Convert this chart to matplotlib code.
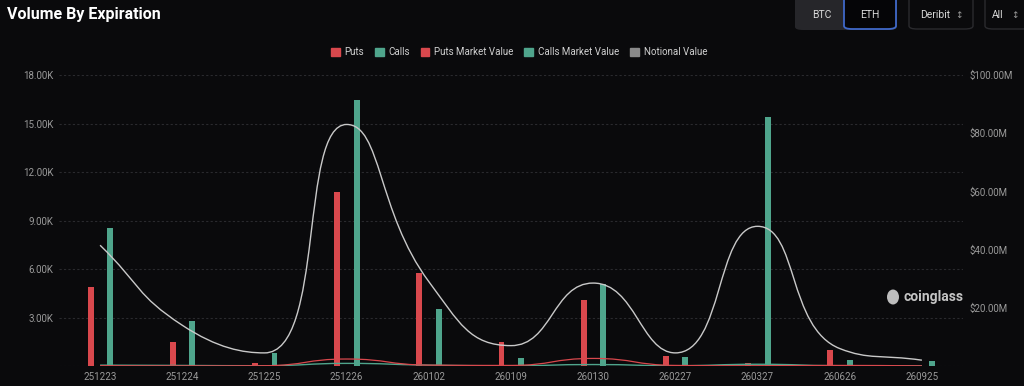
import numpy as np
import matplotlib.pyplot as plt
from matplotlib.path import Path
from matplotlib.patches import PathPatch, Patch, FancyBboxPatch, Ellipse

plt.rcParams['font.family'] = ['Roboto', 'DejaVu Sans']

# data (volume in K, values in $M)
expiries = ['251223', '251224', '251225', '251226', '260102', '260109',
            '260130', '260227', '260327', '260626', '260925']
puts = [4.9, 1.5, 0.2, 10.75, 5.75, 1.5, 4.1, 0.6, 0.2, 1.0, 0.0]
calls = [8.55, 2.8, 0.8, 16.45, 3.5, 0.5, 5.1, 0.55, 15.4, 0.4, 0.3]
puts_mv = [0.1, 0.05, 0.1, 2.4, 0.3, 0.2, 2.6, 0.2, 0.1, 0.2, 0.05]
calls_mv = [0.3, 0.2, 0.1, 0.9, 0.3, 0.1, 0.5, 0.1, 0.6, 0.1, 0.05]
notional = [41.5, 14.0, 4.5, 83.0, 29.0, 7.0, 28.5, 4.5, 48.0, 6.0, 2.0]

left_ticks = [0, 3, 6, 9, 12, 15, 18]
right_ticks = [0, 20, 40, 60, 80, 100]

BG = '#0a0a0c'
RED = '#d9484d'
GREEN = '#4fa58c'
GRAY = '#9a9a9a'
LINE = '#c9c9c9'

W, H = 1024, 386
fig = plt.figure(figsize=(W / 100, H / 100), dpi=100, facecolor=BG)
ax_l, ax_r, ax_b, ax_t = 59, 963, 366, 75
ax = fig.add_axes([ax_l / W, 1 - ax_b / H, (ax_r - ax_l) / W, (ax_b - ax_t) / H])
ax.set_facecolor(BG)
ax2 = ax.twinx()

n = len(expiries)
x = np.arange(n)
ax.set_xlim(-0.5, n - 0.5)
ax.set_ylim(0, 18)
ax2.set_ylim(0, 100)

bw = 0.072
ax.bar(x - 0.116, puts, width=bw, color=RED, zorder=3)
ax.bar(x + 0.122, calls, width=bw, color=GREEN, zorder=3)


# echarts-like smooth bezier (with clamped control points)
def smooth_path(xs, ys, sx, sy, smooth=0.5):
    px = np.asarray(xs, float) * sx
    py = np.asarray(ys, float) * sy
    m = len(px)
    cin, cout = [], []
    for i in range(m):
        x0, y0 = px[i], py[i]
        xp, yp = (px[i - 1], py[i - 1]) if i > 0 else (x0, y0)
        xn, yn = (px[i + 1], py[i + 1]) if i < m - 1 else (x0, y0)
        vx, vy = xn - xp, yn - yp
        lp = np.hypot(x0 - xp, y0 - yp)
        ln = np.hypot(xn - x0, yn - y0)
        if lp + ln == 0:
            cin.append((x0, y0)); cout.append((x0, y0)); continue
        r = ln / (lp + ln)
        ncx, ncy = x0 + vx * smooth * r, y0 + vy * smooth * r
        ncx = np.clip(ncx, min(xn, x0), max(xn, x0))
        ncy = np.clip(ncy, min(yn, y0), max(yn, y0))
        if ln > 0 and lp > 0:
            pcx = x0 - (ncx - x0) * lp / ln
            pcy = y0 - (ncy - y0) * lp / ln
            pcx = np.clip(pcx, min(xp, x0), max(xp, x0))
            pcy = np.clip(pcy, min(yp, y0), max(yp, y0))
            ncx = x0 + (x0 - pcx) * ln / lp
            ncy = y0 + (y0 - pcy) * ln / lp
        else:
            pcx, pcy = x0 - vx * smooth * (1 - r), y0 - vy * smooth * (1 - r)
        cin.append((pcx, pcy))
        cout.append((ncx, ncy))
    verts = [(px[0], py[0])]
    codes = [Path.MOVETO]
    for i in range(m - 1):
        verts += [cout[i], cin[i + 1], (px[i + 1], py[i + 1])]
        codes += [Path.CURVE4] * 3
    verts = np.array(verts) / np.array([sx, sy])
    return Path(verts, codes)


sx = (ax_r - ax_l) / n
sy = (ax_b - ax_t) / 100
for vals, col, lw, z in [(calls_mv, GREEN, 1.0, 4), (puts_mv, RED, 0.9, 4),
                         (notional, LINE, 1.0, 5)]:
    ax2.add_patch(PathPatch(smooth_path(x, vals, sx, sy), fill=False,
                            edgecolor=col, lw=lw, zorder=z))

# grid and ticks
ax.set_yticks(left_ticks)
ax.set_yticklabels([''] + ['%.2fK' % t for t in left_ticks[1:]])
ax2.set_yticks(right_ticks)
ax2.set_yticklabels([''] + ['$%.2fM' % t for t in right_ticks[1:]])
ax.set_xticks(x)
ax.set_xticklabels(expiries)
ax.grid(axis='y', color='#2a2a2e', lw=0.8, ls=(0, (2, 2)))
ax.set_axisbelow(True)
for a in (ax, ax2):
    for s in a.spines.values():
        s.set_visible(False)
    a.tick_params(length=0, colors=GRAY, labelsize=7)
ax.tick_params(axis='y', pad=4)
ax.tick_params(axis='x', pad=4)
ax2.tick_params(axis='y', pad=4.5)

# legend
handles = [Patch(color=RED), Patch(color=GREEN), Patch(color=RED),
           Patch(color=GREEN), Patch(color='#8a8a8a')]
labels = ['Puts', 'Calls', 'Puts Market Value', 'Calls Market Value', 'Notional Value']
fig.legend(handles, labels, loc='center', bbox_to_anchor=(519 / W, 1 - 52 / H),
           ncol=5, frameon=False, fontsize=7, handlelength=0.9, handleheight=0.9,
           handletextpad=0.5, columnspacing=1.1, labelcolor='#d0d0d0')

# title
fig.text(7 / W, 1 - 15 / H, 'Volume By Expiration', color='white', fontsize=11.5,
         fontweight='bold', va='center', ha='left')


# top-right controls
def box(x0, y0, x1, y1, fc, ec, lw=1.0):
    fig.patches.append(FancyBboxPatch((x0 / W, 1 - y1 / H), (x1 - x0) / W, (y1 - y0) / H,
                                      boxstyle='round,pad=0,rounding_size=0.008',
                                      transform=fig.transFigure, fc=fc, ec=ec, lw=lw))


box(795, -6, 897, 30, '#26262a', 'none')
box(844, -6, 896, 29, '#050507', '#3f68c8', 1.3)
box(909, -6, 973, 29, BG, '#2a2a2e')
box(985, -6, 1030, 29, BG, '#2a2a2e')
for tx, s in [(822, 'BTC'), (870, 'ETH'), (935, 'Deribit'), (998, 'All')]:
    fig.text(tx / W, 1 - 15 / H, s, color='#d8d8d8', fontsize=7.5, ha='center', va='center')
for tx in (959, 1015):
    fig.text(tx / W, 1 - 15 / H, '\u2195', color='#9a9a9a', fontsize=6.5, ha='center', va='center')

# watermark
fig.patches.append(Ellipse((893 / W, 1 - 297 / H), 12 / W, 15 / H, transform=fig.transFigure,
                           fc='#bdbdbd', ec='none', zorder=6))
fig.text(903 / W, 1 - 297 / H, 'coinglass', color='#c4c4c4', fontsize=10,
         fontweight='bold', ha='left', va='center')

fig.savefig('out.png', dpi=100, facecolor=BG)
